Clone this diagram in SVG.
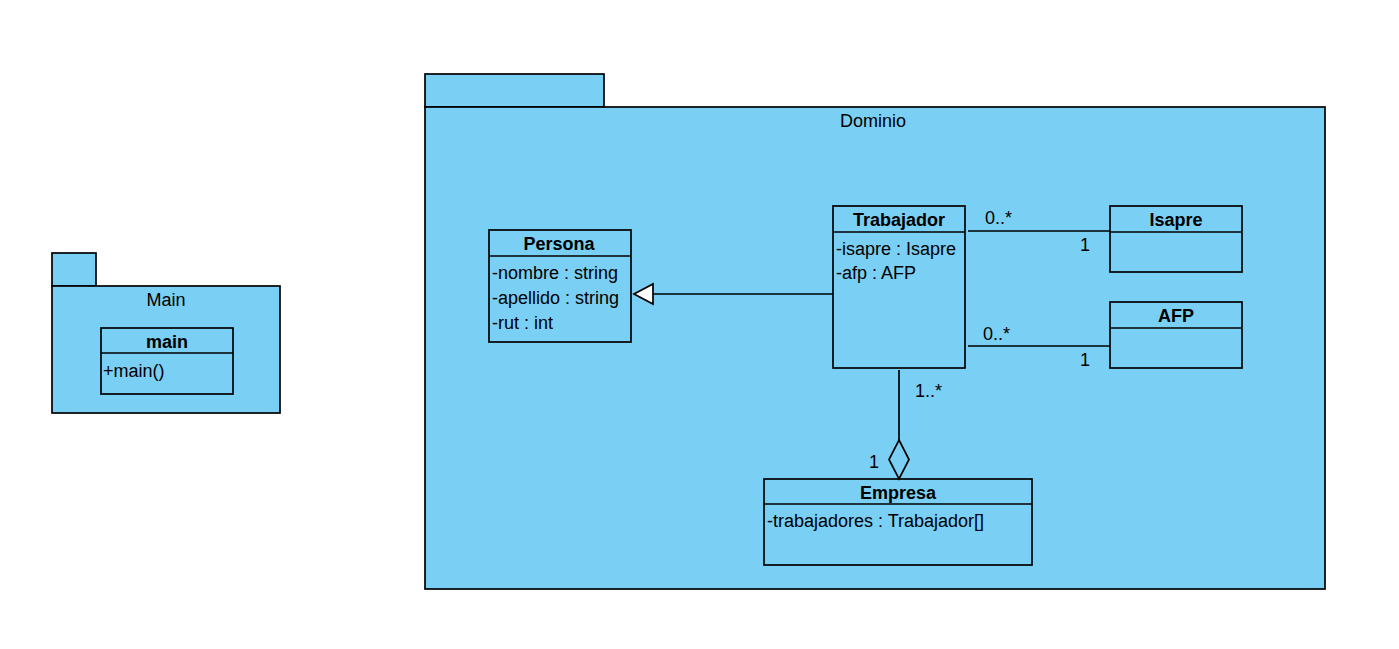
<svg xmlns="http://www.w3.org/2000/svg" width="1399" height="649" viewBox="0 0 1399 649">
<style>
.box{fill:#7acff4;stroke:#000;stroke-width:1.7}
.ln{fill:none;stroke:#000;stroke-width:1.7}
text{font-family:"Liberation Sans",Arial,sans-serif;font-size:18px;fill:#000}
.b{font-weight:bold;text-anchor:middle}
.c{text-anchor:middle}
</style>
<rect width="1399" height="649" fill="#fff"/>
<g id="pkg-main">
<rect class="box" x="52" y="253" width="44" height="33"/>
<rect class="box" x="52" y="286" width="228" height="127"/>
<text class="c" x="166" y="306">Main</text>
</g>
<g id="pkg-dominio">
<rect class="box" x="425" y="74" width="179" height="33"/>
<rect class="box" x="425" y="107" width="900" height="482"/>
<text class="c" x="873" y="127">Dominio</text>
</g>
<g id="main">
<rect class="box" x="101" y="328" width="132" height="66"/>
<line class="ln" x1="101" y1="353" x2="233" y2="353"/>
<text class="b" x="167" y="348">main</text>
<text x="103" y="377">+main()</text>
</g>
<g id="persona">
<rect class="box" x="489" y="230" width="142" height="112"/>
<line class="ln" x1="489" y1="256" x2="631" y2="256"/>
<text class="b" x="559" y="250">Persona</text>
<text x="492" y="279">-nombre : string</text>
<text x="492" y="304">-apellido : string</text>
<text x="492" y="329">-rut : int</text>
</g>
<g id="trabajador">
<rect class="box" x="833" y="206" width="132" height="162"/>
<line class="ln" x1="833" y1="232" x2="965" y2="232"/>
<text class="b" x="899" y="226">Trabajador</text>
<text x="836" y="255">-isapre : Isapre</text>
<text x="836" y="279">-afp : AFP</text>
</g>
<g id="isapre">
<rect class="box" x="1110" y="206" width="132" height="66"/>
<line class="ln" x1="1110" y1="232" x2="1242" y2="232"/>
<text class="b" x="1176" y="226">Isapre</text>
</g>
<g id="afp">
<rect class="box" x="1110" y="302" width="132" height="66"/>
<line class="ln" x1="1110" y1="328" x2="1242" y2="328"/>
<text class="b" x="1176" y="322">AFP</text>
</g>
<g id="empresa">
<rect class="box" x="764" y="479" width="268" height="86"/>
<line class="ln" x1="764" y1="504" x2="1032" y2="504"/>
<text class="b" x="898" y="499">Empresa</text>
<text x="767" y="527">-trabajadores : Trabajador[]</text>
</g>
<g id="connectors">
<line class="ln" x1="653" y1="294" x2="833" y2="294"/>
<polygon points="634,294 653,284 653,304" fill="#fff" stroke="#000" stroke-width="1.7"/>
<line class="ln" x1="968" y1="231" x2="1110" y2="231"/>
<text x="985" y="224">0..*</text>
<text x="1080" y="251">1</text>
<line class="ln" x1="968" y1="346" x2="1110" y2="346"/>
<text x="983" y="340">0..*</text>
<text x="1080" y="366">1</text>
<line class="ln" x1="899" y1="370" x2="899" y2="440"/>
<polygon points="899,440 909,459.5 899,479 889,459.5" fill="#7acff4" stroke="#000" stroke-width="1.7"/>
<text x="915" y="397">1..*</text>
<text x="869" y="468">1</text>
</g>
</svg>
